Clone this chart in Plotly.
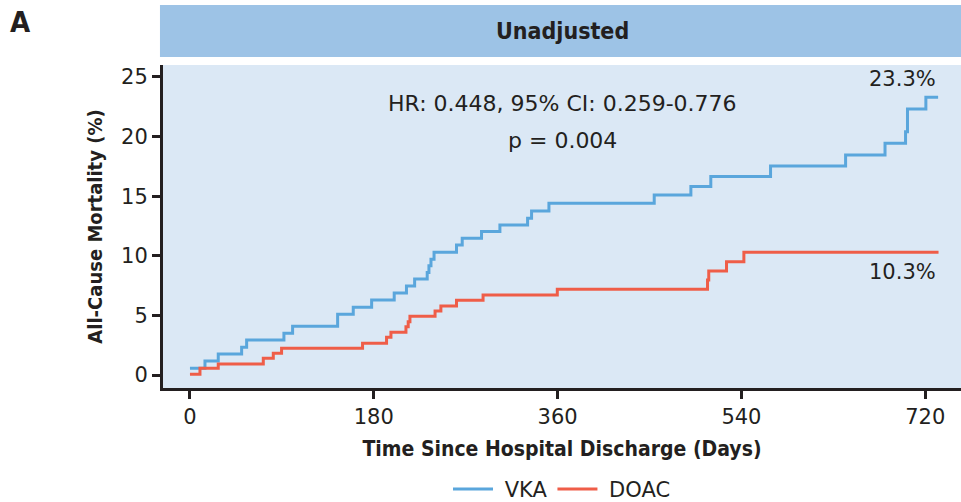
import plotly.graph_objects as go

# Data (days, cumulative mortality %)
vka_days = [0, 14.7, 27.7, 50.6, 55.5, 92, 100.5, 144.6, 159.9, 177.9, 200, 212, 220, 232.3, 234, 236, 239,
            261, 266.6, 285.5, 303.5, 330.6, 334.5, 351.5, 454.6, 490.5, 510, 568.5, 642, 680.6, 700.7, 702.6, 720.6, 732.6]
vka_mort = [0.56, 1.17, 1.76, 2.32, 2.94, 3.5, 4.08, 5.09, 5.68, 6.29, 6.88, 7.47, 8.05, 8.6, 9.17, 9.7, 10.29,
            10.9, 11.47, 12.03, 12.58, 13.14, 13.76, 14.4, 15.1, 15.8, 16.64, 17.53, 18.46, 19.44, 20.4, 22.3, 23.3, 23.3]

doac_days = [0, 9.8, 27.7, 71.8, 81.6, 89.7, 169, 192.5, 196.8, 211.5, 213.7, 215.4, 240, 245.7, 261, 287,
             359.7, 506.8, 508, 525.4, 542.4, 733]
doac_mort = [0.06, 0.56, 0.92, 1.4, 1.82, 2.24, 2.66, 3.16, 3.58, 4.05, 4.47, 4.92, 5.37, 5.79, 6.26, 6.71,
             7.19, 7.97, 8.72, 9.5, 10.3, 10.3]

x_ticks = [0, 180, 360, 540, 720]
y_ticks = [0, 5, 10, 15, 20, 25]

VKA_COLOR = "#5aa6dc"
DOAC_COLOR = "#ef5d48"
TXT = "#231f20"
BASE_FONT = "DejaVu Sans, Open Sans, sans-serif"
COND_FONT = "DejaVu Sans Condensed, Liberation Sans Narrow, DejaVu Sans, sans-serif"

fig = go.Figure()
fig.add_trace(go.Scatter(x=vka_days, y=vka_mort, mode="lines", line=dict(shape="hv", color=VKA_COLOR, width=3),
                         name="\u00a0VKA"))
fig.add_trace(go.Scatter(x=doac_days, y=doac_mort, mode="lines", line=dict(shape="hv", color=DOAC_COLOR, width=3),
                         name="\u00a0DOAC"))

fig.update_layout(
    width=961, height=502,
    margin=dict(l=163, r=0, t=65, b=114, autoexpand=False),
    paper_bgcolor="white",
    plot_bgcolor="#dbe8f5",
    font=dict(family=BASE_FONT, size=21, color=TXT),
    showlegend=True,
    legend=dict(orientation="h", x=0.5, xanchor="center", y=-0.25, yanchor="top",
                font=dict(size=21, family=BASE_FONT), itemwidth=40, bgcolor="rgba(0,0,0,0)",
                borderwidth=0),
    xaxis=dict(range=[-26.4, 755], tickvals=x_ticks, ticks="outside", ticklen=8, tickwidth=2.5, tickcolor=TXT,
               showline=True, linecolor=TXT, linewidth=3, showgrid=False, zeroline=False,
               tickfont=dict(size=21), automargin=False,
               title=dict(text="<b>Time Since Hospital Discharge (Days)</b>", font=dict(size=21, family=COND_FONT), standoff=14)),
    yaxis=dict(range=[-1.09, 26.0], tickvals=y_ticks, ticks="outside", ticklen=8, tickwidth=2.5, tickcolor=TXT,
               showline=True, linecolor=TXT, linewidth=3, showgrid=False, zeroline=False,
               tickfont=dict(size=21), automargin=False,
               title=dict(text="<b>All-Cause Mortality (%)</b>", font=dict(size=20, family=COND_FONT), standoff=14)),
)

# Header strip
fig.add_shape(type="rect", xref="paper", yref="paper", x0=-0.0038, x1=1.0, y0=1.0248, y1=1.1858,
              fillcolor="#9dc3e6", line=dict(width=0), layer="below")
fig.add_annotation(xref="paper", yref="paper", x=0.5, y=1.105, text="<b>Unadjusted</b>", showarrow=False,
                   font=dict(size=23, family=COND_FONT, color=TXT), yanchor="middle")
fig.add_annotation(xref="paper", yref="paper", x=-0.179, y=1.133, text="<b>A</b>", showarrow=False,
                   font=dict(size=29, family=COND_FONT, color=TXT), xanchor="center", yanchor="middle")

fig.add_annotation(x=364.7, y=22.8, text="HR: 0.448, 95% CI: 0.259-0.776", showarrow=False,
                   font=dict(size=22), xanchor="center", yanchor="middle")
fig.add_annotation(x=364.7, y=19.7, text="p = 0.004", showarrow=False,
                   font=dict(size=22), xanchor="center", yanchor="middle")
fig.add_annotation(x=732.3, y=24.8, text="23.3%", showarrow=False, font=dict(size=21),
                   xanchor="right", yanchor="middle")
fig.add_annotation(x=732.3, y=8.64, text="10.3%", showarrow=False, font=dict(size=21),
                   xanchor="right", yanchor="middle")

fig.write_html("out.html", config={"displayModeBar": False},
               post_script="document.body.style.margin='0';document.body.style.overflow='hidden';")
